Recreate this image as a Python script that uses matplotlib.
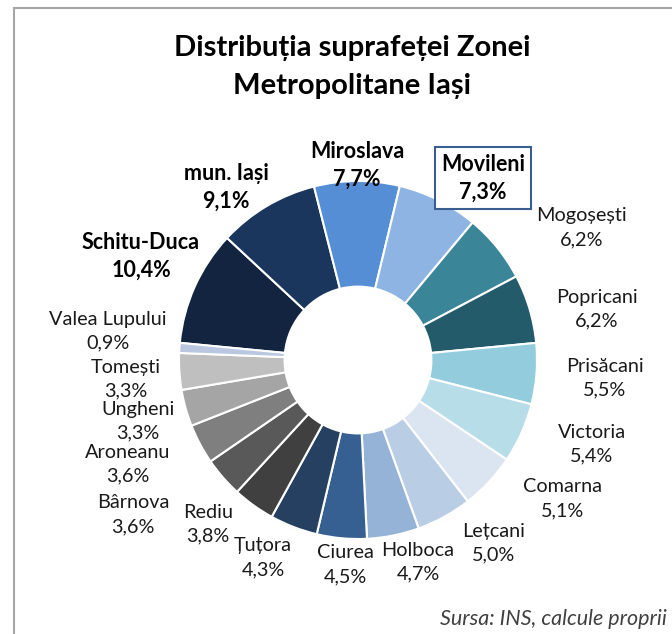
import matplotlib
matplotlib.use("Agg")
import matplotlib.pyplot as plt
from matplotlib.patches import Rectangle

plt.rcParams['font.family'] = ['Lato', 'DejaVu Sans']

# date: suprafata pe localitati (%)
localitati = ['Schitu-Duca', 'mun. Iași', 'Miroslava', 'Movileni', 'Mogoșești', 'Popricani',
              'Prisăcani', 'Victoria', 'Comarna', 'Lețcani', 'Holboca', 'Ciurea', 'Țuțora',
              'Rediu', 'Bârnova', 'Aroneanu', 'Ungheni', 'Tomești', 'Valea Lupului']
procente = [10.4, 9.1, 7.7, 7.3, 6.2, 6.2, 5.5, 5.4, 5.1, 5.0, 4.7, 4.5, 4.3, 3.8, 3.6, 3.6, 3.3, 3.3, 0.9]
culori = ['#12243F', '#1A365D', '#558ED5', '#8EB4E3', '#3A8698', '#235B6A', '#93CDDD', '#B7DDE8',
          '#DBE5F1', '#B9CDE5', '#95B3D7', '#376092', '#254061', '#404040', '#595959', '#7F7F7F',
          '#A5A5A5', '#BFBFBF', '#B9C7E0']
bold = ['Schitu-Duca', 'mun. Iași', 'Miroslava', 'Movileni']

# pozitii etichete (pixeli, de sus)
pozitii = {'Schitu-Duca': (141, 256), 'mun. Iași': (226, 187), 'Miroslava': (357, 165),
           'Movileni': (483, 178), 'Mogoșești': (582, 228), 'Popricani': (597, 309),
           'Prisăcani': (605, 378), 'Victoria': (592, 444), 'Comarna': (563, 499),
           'Lețcani': (494, 543), 'Holboca': (418, 562), 'Ciurea': (345, 565),
           'Țuțora': (263, 558), 'Rediu': (208, 524), 'Bârnova': (133, 515),
           'Aroneanu': (128, 464), 'Ungheni': (138, 421), 'Tomești': (126, 379),
           'Valea Lupului': (108, 331)}

W, H = 672, 634
fig = plt.figure(figsize=(W / 100, H / 100), dpi=100)
ax = fig.add_axes([0, 0, 1, 1])

# chenar gri
ax.add_patch(Rectangle((14, -20), W + 20, H - 8 + 20, fill=False, edgecolor='#A6A6A6', lw=1.5))

ax.pie(procente, colors=culori, startangle=174.5, counterclock=False,
       center=(358, H - 360), radius=179, frame=True,
       wedgeprops=dict(width=179 * 0.59, edgecolor='white', linewidth=1.5))
ax.set_xlim(0, W)
ax.set_ylim(0, H)
ax.set_aspect('equal')
ax.axis('off')

for nume, val in zip(localitati, procente):
    x, y = pozitii[nume]
    txt = nume + '\n' + ('%.1f' % val).replace('.', ',') + '%'
    kw = dict(ha='center', va='center', fontsize=14.3, linespacing=1.5, color='#1A1A1A')
    if nume in bold:
        kw['fontweight'] = 'bold'
        kw['fontsize'] = 15.5
        kw['linespacing'] = 1.4
        kw['color'] = 'black'
    if nume == 'Movileni':
        kw['bbox'] = dict(boxstyle='square,pad=0.3', fc='white', ec='#3B5E91', lw=1.5)
    ax.text(x, H - y, txt, **kw)

ax.text(352, H - 67, 'Distribuția suprafeței Zonei\nMetropolitane Iași', ha='center', va='center',
        fontsize=21, fontweight='bold', linespacing=1.6)
ax.text(667, H - 619, 'Sursa: INS, calcule proprii', ha='right', va='center',
        fontsize=15.5, style='italic', color='#404040')

fig.savefig('out.png', dpi=100)
